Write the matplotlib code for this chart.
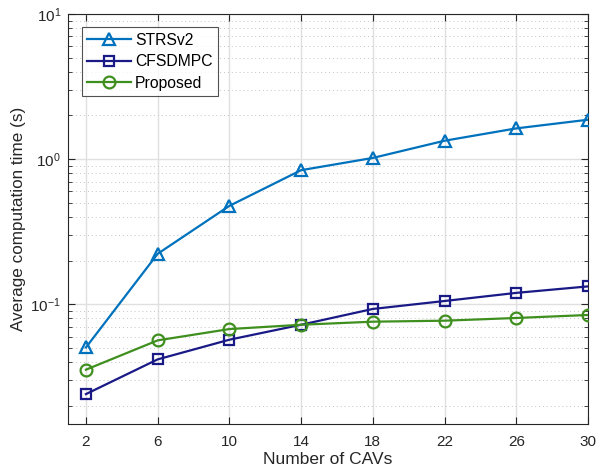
import matplotlib
matplotlib.use("Agg")
import matplotlib.pyplot as plt
from matplotlib.ticker import LogLocator, NullFormatter, FixedLocator

plt.rcParams['font.family'] = ['Liberation Sans', 'DejaVu Sans']

num_cavs = [2, 6, 10, 14, 18, 22, 26, 30]
strsv2 = [0.0505, 0.223, 0.477, 0.84, 1.02, 1.34, 1.63, 1.87]
cfsdmpc = [0.0241, 0.0418, 0.0571, 0.0724, 0.093, 0.1055, 0.120, 0.133]
proposed = [0.0355, 0.0565, 0.0676, 0.0724, 0.076, 0.0772, 0.0806, 0.0845]
x_ticks = [2, 6, 10, 14, 18, 22, 26, 30]

fig = plt.figure(figsize=(5.97, 4.72), dpi=100)
ax = fig.add_axes([68/597, 1 - 424/472, (588-68)/597, (424-14)/472])

c1 = '#0072BD'
c2 = '#1a1a87'
c3 = '#3f8f1f'
ax.plot(num_cavs, strsv2, '-^', color=c1, lw=1.6, ms=8.5, mfc='none', mew=1.6, label='STRSv2', zorder=3)
ax.plot(num_cavs, cfsdmpc, '-s', color=c2, lw=1.6, ms=7.5, mfc='none', mew=1.6, label='CFSDMPC', zorder=3)
ax.plot(num_cavs, proposed, '-o', color=c3, lw=1.6, ms=8.5, mfc='none', mew=1.6, label='Proposed', zorder=3)

ax.set_yscale('log')
ax.set_xlim(1, 30)
ax.set_ylim(0.015, 10)
ax.set_xticks(x_ticks)
ax.yaxis.set_major_locator(FixedLocator([0.1, 1, 10]))
ax.yaxis.set_minor_locator(LogLocator(base=10, subs=range(2, 10)))
ax.yaxis.set_minor_formatter(NullFormatter())

ax.grid(True, which='major', color='#e0e0e0', lw=1.0, ls='-', zorder=0)
ax.grid(True, which='minor', axis='y', color='#c4c4c4', lw=0.7, ls=(0, (1, 3)), zorder=0)
ax.set_axisbelow(True)

axc = '#262626'
for s in ax.spines.values():
    s.set_color(axc)
    s.set_linewidth(0.8)
ax.tick_params(which='both', direction='in', top=True, right=True, colors=axc, labelcolor='#262626', labelsize=11)
ax.tick_params(which='major', length=5)
ax.tick_params(which='minor', length=3)
ax.tick_params(axis='x', pad=8)
ax.tick_params(axis='y', pad=5)

ax.set_xlabel('Number of CAVs', fontsize=12.5, color='#262626', labelpad=2)
ax.set_ylabel('Average computation time (s)', fontsize=12.3, color='#262626', labelpad=3)

leg = ax.legend(loc='upper left', bbox_to_anchor=(0.026, 0.968), fontsize=11.3, frameon=True,
                fancybox=False, edgecolor='#262626', borderpad=0.35, handlelength=2.8,
                handletextpad=0.25, labelspacing=0.42, borderaxespad=0)
leg.get_frame().set_linewidth(0.8)

fig.savefig('out.png', dpi=100)
